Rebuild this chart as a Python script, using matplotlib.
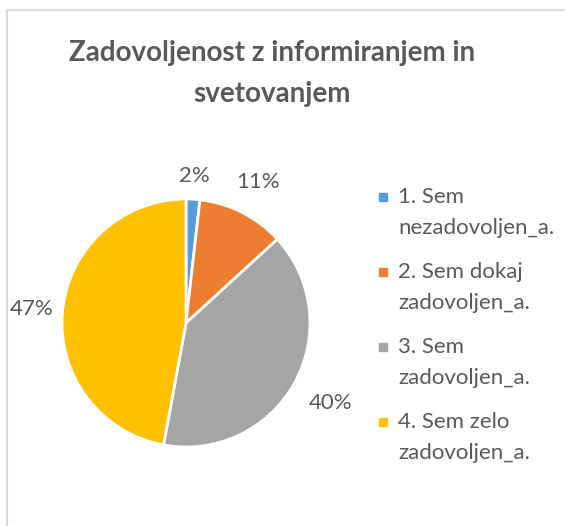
import matplotlib
matplotlib.use("Agg")
import matplotlib.pyplot as plt
from matplotlib.patches import Rectangle
import numpy as np

categories = ["1. Sem\nnezadovoljen_a.", "2. Sem dokaj\nzadovoljen_a.",
              "3. Sem\nzadovoljen_a.", "4. Sem zelo\nzadovoljen_a."]
values = [1.8, 11.4, 39.7, 47.1]
colors = ["#5B9BD5", "#ED7D31", "#A5A5A5", "#FFC000"]
title_lines = ["Zadovoljenost z informiranjem in", "svetovanjem"]

plt.rcParams['font.family'] = ['Lato', 'DejaVu Sans']
W, H = 565, 526
fig = plt.figure(figsize=(W/100, H/100), dpi=100)
fig.patch.set_facecolor("white")

# frame
fig.add_artist(plt.Line2D([7/W, 7/W], [0, 1 - 10/H], color="#D9D9D9", lw=1.5, transform=fig.transFigure))
fig.add_artist(plt.Line2D([7/W, 1], [1 - 10/H, 1 - 10/H], color="#D9D9D9", lw=1.5, transform=fig.transFigure))

for i, t in enumerate(title_lines):
    fig.text(272/W, 1 - (53 + 41*i)/H, t, ha="center", va="center", fontsize=20,
             fontweight="bold", color="#595959")

cx, cy, r = 186, 323, 124
ax = fig.add_axes([(cx - r)/W, 1 - (cy + r)/H, 2*r/W, 2*r/H])
wedges, texts, autotexts = ax.pie(values, colors=colors, startangle=90, counterclock=False,
       autopct=lambda p: f"{p:.0f}%", pctdistance=1.25,
       wedgeprops=dict(edgecolor="white", linewidth=2),
       textprops=dict(color="#595959", fontsize=16))
ax.set_aspect("equal")
ax.set_xlim(-1, 1); ax.set_ylim(-1, 1)

# per-label distances (Excel best-fit placement)
label_dist = [1.19, 1.28, 1.33, 1.25]
for w, t, d in zip(wedges, autotexts, label_dist):
    th = np.deg2rad((w.theta1 + w.theta2) / 2)
    t.set_position((d*np.cos(th), d*np.sin(th)))

# legend
y0 = 197
for i, (lab, col) in enumerate(zip(categories, colors)):
    y = y0 + i*75
    fig.add_artist(Rectangle((379/W, 1 - (y + 4)/H), 8/W, 8/H, color=col, transform=fig.transFigure))
    l1, l2 = lab.split("\n")
    fig.text(398/W, 1 - y/H, l1, ha="left", va="center", fontsize=16, color="#595959")
    fig.text(398/W, 1 - (y + 31)/H, l2, ha="left", va="center", fontsize=16, color="#595959")

fig.savefig("out.png", dpi=100)
